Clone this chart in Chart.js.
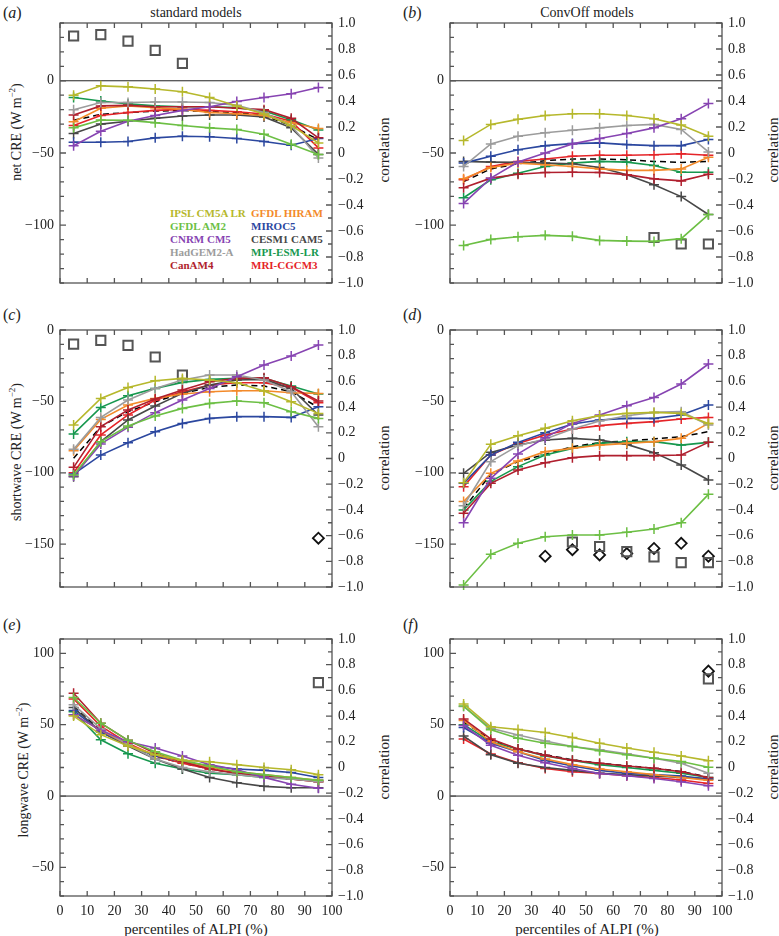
<!DOCTYPE html>
<html><head><meta charset="utf-8">
<script src="https://cdn.jsdelivr.net/npm/chart.js@4.4.1/dist/chart.umd.min.js"></script>
<style>
body{margin:0;background:#fff;width:779px;height:936px;position:relative;overflow:hidden;font-family:'Liberation Serif','Times New Roman',serif;color:#222}
canvas{position:absolute}
.t{position:absolute;white-space:nowrap;font-size:14px;line-height:1}
.c{transform:translate(-50%,-50%)}
.r{transform:translate(-50%,-50%) rotate(-90deg)}
.lab{font-size:16px;transform:translateY(-50%)}
.lg{position:absolute;font-weight:bold;font-size:11px;line-height:1;white-space:nowrap;transform:translateY(-50%)}
</style></head><body>

<div class="t lab" style="left:3px;top:13px">(<i>a</i>)</div>
<div class="t c" style="left:196px;top:13px">standard models</div>
<div class="t lab" style="left:403px;top:13px">(<i>b</i>)</div>
<div class="t c" style="left:587px;top:13px">ConvOff models</div>
<div class="t lab" style="left:3px;top:315px">(<i>c</i>)</div>
<div class="t lab" style="left:403px;top:315px">(<i>d</i>)</div>
<div class="t lab" style="left:3px;top:625px">(<i>e</i>)</div>
<div class="t lab" style="left:403px;top:625px">(<i>f</i>)</div>

<div class="t r" style="left:16px;top:132px">net CRE (W m<sup style="font-size:9px">−2</sup>)</div>
<div class="t r" style="left:16px;top:452px">shortwave CRE (W m<sup style="font-size:9px">−2</sup>)</div>
<div class="t r" style="left:23px;top:770px">longwave CRE (W m<sup style="font-size:9px">−2</sup>)</div>

<div class="t r" style="left:384px;top:150px;font-size:15px">correlation</div>
<div class="t r" style="left:773px;top:150px;font-size:15px">correlation</div>
<div class="t r" style="left:384px;top:458px;font-size:15px">correlation</div>
<div class="t r" style="left:773px;top:458px;font-size:15px">correlation</div>
<div class="t r" style="left:384px;top:767px;font-size:15px">correlation</div>
<div class="t r" style="left:773px;top:767px;font-size:15px">correlation</div>

<div class="t c" style="left:196px;top:929px;font-size:15px">percentiles of ALPI (%)</div>
<div class="t c" style="left:587px;top:929px;font-size:15px">percentiles of ALPI (%)</div>

<div id="legend"></div>

<script>
// ---------------- data ----------------
const percentiles = [5, 15, 25, 35, 45, 55, 65, 75, 85, 95];
const modelNames = ['IPSL CM5A LR', 'GFDL AM2', 'CNRM CM5', 'HadGEM2-A', 'CanAM4',
                    'GFDL HIRAM', 'MIROC5', 'CESM1 CAM5', 'MPI-ESM-LR', 'MRI-CGCM3'];
const xTickValues = [0, 10, 20, 30, 40, 50, 60, 70, 80, 90, 100];
const corrTickValues = [1, 0.8, 0.6, 0.4, 0.2, 0, -0.2, -0.4, -0.6, -0.8, -1];
const netTickValues = [0, -50, -100];
const swTickValues = [0, -50, -100, -150];
const lwTickValues = [100, 50, 0, -50];

// (a) net CRE, standard models (rows in modelNames order)
const netStandard = [
  [-10, -3.5, -4.2, -5.7, -7.6, -11.6, -17.4, -23, -31, -43],
  [-32.6, -27.2, -27.4, -29, -31, -32.6, -33.7, -37, -44, -51],
  [-45, -35, -28, -24, -20.5, -18, -14.4, -11.6, -9, -4.6],
  [-20, -15, -15, -14.7, -14.7, -15, -17, -22, -31, -53.5],
  [-23.7, -17.4, -17, -18, -18, -18, -19, -20, -26, -39.5],
  [-28.4, -19, -17.4, -18.6, -19.8, -22, -22.8, -24, -29, -33],
  [-42.6, -42.6, -42, -39.5, -38.4, -38.8, -40, -42, -44.6, -40],
  [-36.5, -30, -28, -26, -24.4, -23.7, -23.7, -25, -32.6, -51],
  [-11.6, -14, -16, -17.4, -18, -18, -18.6, -21, -27, -34],
  [-31, -24, -22, -20.5, -19.8, -20.5, -21.4, -23, -28, -46.5]
];
const netStandardMean = [-27.4, -23.3, -22, -21, -20.5, -21.4, -22, -24, -31, -40.7];
const netStandardCorr = [0.90, 0.91, 0.86, 0.79, 0.69, null, null, null, null, null];

// (b) net CRE, ConvOff models
const netConvOff = [
  [-41.4, -30.2, -26.7, -24, -22.8, -22.8, -24, -26.3, -30.7, -38.4],
  [-114, -109.8, -108, -107, -107.7, -110.5, -111, -111.2, -109.3, -92.6],
  [-84.9, -67.4, -56.3, -50, -43.7, -40, -36.5, -32.6, -26.3, -15.8],
  [-59.3, -43.7, -38.4, -36, -34.2, -32.6, -31, -30.2, -33.7, -49.3],
  [-74, -67.4, -64.7, -63.5, -63.3, -63.5, -65, -67.9, -69.3, -64.7],
  [-67.9, -60, -57, -58.1, -59.3, -61, -62, -62, -61, -53],
  [-57, -52.3, -47.7, -44.9, -43.5, -43, -44.2, -44.9, -44.9, -40.7],
  [-55.8, -56.3, -56.5, -57, -57.4, -60, -65, -72, -80.2, -92.6],
  [-81, -68.6, -64, -59.3, -57, -55.8, -56.3, -58.6, -63.3, -63.3],
  [-68.6, -59.3, -55.8, -54.2, -52.3, -51.6, -51.6, -51.2, -50.5, -51.6]
];
const netConvOffMean = [-69.8, -61, -57.4, -55.3, -54.2, -54.2, -54.7, -55.8, -56.5, -55.8];
const netConvOffCorr = [null, null, null, null, null, null, null, -0.65, -0.70, -0.70];

// (c) shortwave CRE, standard models
const swStandard = [
  [-66.5, -47.9, -40.2, -35.5, -33.9, -35, -36.9, -42.7, -50.2, -58.4],
  [-101.6, -78.2, -67.2, -60.2, -54.9, -51.4, -49.7, -50.9, -57.2, -61.9],
  [-102.3, -79.8, -68.2, -57.9, -49, -40.9, -32.7, -24.5, -18.2, -10.5],
  [-83.6, -61.2, -49, -40.9, -35, -31.5, -31.5, -35, -43.2, -67.7],
  [-96.2, -67.7, -56, -48.3, -42, -36.2, -33.9, -33.4, -39.7, -49.7],
  [-84.5, -62.6, -52.5, -47.9, -44.8, -43.2, -42.5, -42.5, -43.9, -44.4],
  [-100.9, -87.6, -78.9, -71.2, -65.4, -61.9, -60.7, -60.7, -61.2, -53.7],
  [-102.7, -78.2, -63, -53.2, -44.4, -38.5, -35, -34.6, -40.9, -59.5],
  [-72.8, -54.2, -46, -40.9, -36.7, -34.6, -33.9, -33.9, -39.2, -44.8],
  [-100, -73.5, -59.5, -49, -43.2, -38.5, -36.9, -36.9, -40.2, -50.9]
];
const swStandardMean = [-89.9, -67.7, -57.2, -50.2, -44.4, -40.2, -38.5, -39.2, -43.2, -54.2];
const swStandardCorr = [0.89, 0.92, 0.88, 0.79, 0.65, null, null, null, null, null];
const swStandardCorrAlt = [null, null, null, null, null, null, null, null, null, -0.62];

// (d) shortwave CRE, ConvOff models
const swConvOff = [
  [-107, -80.1, -74, -68.9, -63.5, -60, -58.4, -57.7, -58.4, -65.4],
  [-178.6, -157.1, -149.4, -144.8, -143.6, -143.6, -141.7, -139.4, -135, -115.1],
  [-135, -103.9, -86.8, -75.4, -65.4, -59.5, -53, -47.2, -37.8, -23.8],
  [-123.1, -92.2, -81, -76.4, -69.3, -63.7, -60, -57.7, -57.2, -66.5],
  [-128.4, -107.4, -98, -93, -89.4, -88, -88, -88, -87.6, -78.7],
  [-120.2, -100.4, -91.8, -85.2, -82.9, -80.6, -79.4, -78.2, -75.9, -65.4],
  [-107.4, -87.6, -78.7, -71.9, -65.8, -63, -61.9, -61.9, -59.5, -52.5],
  [-100.4, -85.7, -80.6, -77, -75.9, -77, -80.1, -85.9, -94.6, -105.1],
  [-126, -106, -95.7, -87.6, -82.9, -79.4, -78.2, -78.2, -80.6, -78.7],
  [-109.7, -87.6, -79.4, -73.6, -69.3, -67, -65.4, -64.2, -62.3, -61.2]
];
const swConvOffMean = [-125, -101.1, -92.2, -87.1, -81.7, -78.9, -77.7, -76.3, -74.7, -71.2];
const swConvOffCorr = [null, null, null, null, -0.65, -0.685, -0.725, -0.765, -0.81, -0.81];
const swConvOffCorrAlt = [null, null, null, -0.76, -0.71, -0.75, -0.74, -0.70, -0.66, -0.76];

// (e) longwave CRE, standard models
const lwStandard = [
  [56, 43, 35, 29, 25, 24, 22, 20, 18.4, 15],
  [69, 51, 39, 31, 25, 21, 17, 15, 13, 11],
  [57, 46, 38, 33.6, 28, 22, 18.4, 13.1, 8.3, 5.5],
  [64, 47, 36, 26, 20, 17, 15, 13, 12, 10],
  [72, 51, 39, 30, 24, 19, 16, 14, 12, 10],
  [57, 46, 36, 29, 24, 20, 17, 15, 13, 11],
  [60, 45, 36, 28, 24, 21, 19, 18, 16.5, 13],
  [62, 45, 35, 26, 19, 13, 9.3, 6.8, 5.8, 5.8],
  [59, 39.4, 29.6, 23, 19, 16, 15, 13, 12, 11],
  [68, 49, 37, 28, 23, 19, 16, 14, 12, 10]
];
const lwStandardMean = [63, 46, 36, 28, 23, 19, 16, 14, 12, 10.5];
const lwStandardCorr = [null, null, null, null, null, null, null, null, null, 0.66];

// (f) longwave CRE, ConvOff models
const lwConvOff = [
  [64.5, 48.5, 46.6, 44.5, 41, 37, 33.6, 30.7, 28.1, 24.8],
  [63, 46.4, 40.5, 37, 34.7, 31.7, 28.9, 26.5, 24.2, 20.2],
  [49.5, 35.6, 28.6, 23.3, 19.3, 15.8, 14.2, 12.3, 10, 7.2],
  [62.8, 47.5, 42.8, 38.6, 34.7, 32.4, 29.6, 26.5, 23, 16],
  [54, 40, 33, 28.5, 25, 23, 21, 19.5, 17, 13],
  [53, 38, 31, 26, 22, 19, 17, 15, 13, 11],
  [48, 37, 31, 25, 21, 18, 16, 15, 14, 12],
  [42, 29, 23, 20, 18, 16, 15, 14, 13, 12],
  [50, 38, 33, 28, 25, 22, 20, 18, 16, 13],
  [40, 29.5, 23.3, 19.3, 17, 15.8, 14.2, 13, 11.2, 8.8]
];
const lwConvOffMean = [52, 39.4, 32.9, 28.9, 25.4, 23, 21.2, 19.5, 17.2, 13.2];
const lwConvOffCorr = [null, null, null, null, null, null, null, null, null, 0.69];
const lwConvOffCorrAlt = [null, null, null, null, null, null, null, null, null, 0.75];

// ---------------- styles ----------------
const modelColors = ['#b6b82c', '#6cbf44', '#8744b2', '#9c9c9c', '#b01f2e',
                     '#f38a2a', '#2b479f', '#474747', '#17984f', '#e52428'];
const FONT = "'Liberation Serif', 'Times New Roman', serif";

// legend (inside panel a)
const legendCols = [170, 251];
const legendRows = [213, 226, 239, 252, 265];
const lg = document.getElementById('legend');
modelNames.forEach((n, i) => {
  const d = document.createElement('div');
  d.className = 'lg';
  d.textContent = n;
  d.style.left = legendCols[Math.floor(i / 5)] + 'px';
  d.style.top = legendRows[i % 5] + 'px';
  d.style.color = modelColors[i];
  lg.appendChild(d);
});

function pts(arr) { return percentiles.map((p, i) => ({ x: p, y: arr[i] })); }
function fmtMinus(v, dec) {
  if (v === 0) return '0';
  const s = dec ? Math.abs(v).toFixed(dec) : String(Math.abs(v));
  return (v < 0 ? '\u2212' : '') + s;
}

const framePlugin = {
  id: 'frameTicks',
  beforeDatasetsDraw(chart) {
    const { ctx, chartArea: a, scales } = chart;
    const y0 = scales.y.getPixelForValue(0);
    if (y0 > a.top + 1 && y0 < a.bottom - 1) {
      ctx.save();
      ctx.strokeStyle = '#222'; ctx.lineWidth = 1;
      ctx.beginPath(); ctx.moveTo(a.left, y0); ctx.lineTo(a.right, y0); ctx.stroke();
      ctx.restore();
    }
  },
  afterDatasetsDraw(chart) {
    const { ctx, chartArea: a, scales } = chart;
    ctx.save();
    ctx.strokeStyle = '#555'; ctx.lineWidth = 1.3;
    ctx.strokeRect(a.left, a.top, a.right - a.left, a.bottom - a.top);
    ctx.beginPath();
    for (let v = 0; v <= 100; v += 10) {
      const x = scales.x.getPixelForValue(v);
      ctx.moveTo(x, a.top); ctx.lineTo(x, a.top + 5);
      ctx.moveTo(x, a.bottom); ctx.lineTo(x, a.bottom - 5);
    }
    const ys = scales.y;
    for (let v = Math.ceil(ys.min / 10) * 10; v <= ys.max; v += 10) {
      const y = ys.getPixelForValue(v);
      const L = (v % 50 === 0) ? 6 : 4;
      ctx.moveTo(a.left, y); ctx.lineTo(a.left + L, y);
    }
    const y2 = scales.y2;
    for (let i = -10; i <= 10; i++) {
      const y = y2.getPixelForValue(i / 10);
      const L = (i % 2 === 0) ? 6 : 4;
      ctx.moveTo(a.right, y); ctx.lineTo(a.right - L, y);
    }
    ctx.stroke();
    ctx.restore();
  }
};

const panels = [
  { id: 'a', box: [0, 0, 390, 300], plot: [60, 23, 332, 283], range: [-140, 40], ticks: netTickValues,
    series: netStandard, mean: netStandardMean, sq: netStandardCorr, dia: null, showX: false },
  { id: 'b', box: [390, 0, 389, 300], plot: [450, 23, 722, 283], range: [-140, 40], ticks: netTickValues,
    series: netConvOff, mean: netConvOffMean, sq: netConvOffCorr, dia: null, showX: false },
  { id: 'c', box: [0, 300, 390, 310], plot: [60, 330, 332, 587], range: [-180, 0], ticks: swTickValues,
    series: swStandard, mean: swStandardMean, sq: swStandardCorr, dia: swStandardCorrAlt, showX: false },
  { id: 'd', box: [390, 300, 389, 310], plot: [450, 330, 722, 587], range: [-180, 0], ticks: swTickValues,
    series: swConvOff, mean: swConvOffMean, sq: swConvOffCorr, dia: swConvOffCorrAlt, showX: false },
  { id: 'e', box: [0, 610, 390, 326], plot: [60, 639, 332, 896], range: [-70, 110], ticks: lwTickValues,
    series: lwStandard, mean: lwStandardMean, sq: lwStandardCorr, dia: null, showX: true },
  { id: 'f', box: [390, 610, 389, 326], plot: [450, 639, 722, 896], range: [-70, 110], ticks: lwTickValues,
    series: lwConvOff, mean: lwConvOffMean, sq: lwConvOffCorr, dia: lwConvOffCorrAlt, showX: true }
];

panels.forEach(p => {
  const [bx, by, bw, bh] = p.box;
  const [pl, pt, pr, pb] = p.plot;
  const cv = document.createElement('canvas');
  cv.width = bw; cv.height = bh;
  cv.style.left = bx + 'px'; cv.style.top = by + 'px';
  cv.style.width = bw + 'px'; cv.style.height = bh + 'px';
  document.body.appendChild(cv);

  const datasets = p.series.map((vals, i) => ({
    data: pts(vals), yAxisID: 'y', borderColor: modelColors[i], backgroundColor: modelColors[i],
    borderWidth: 1.6, pointStyle: 'cross', pointRadius: 5, pointBorderWidth: 1.5,
    pointBorderColor: modelColors[i], tension: 0, clip: false, fill: false
  }));
  datasets.push({
    data: pts(p.mean), yAxisID: 'y', borderColor: '#000', borderWidth: 1.5,
    borderDash: [6, 4], pointRadius: 0, tension: 0, clip: false, fill: false
  });
  datasets.push({
    data: pts(p.sq), yAxisID: 'y2', showLine: false, pointStyle: 'rect', pointRadius: 6.5,
    pointBorderColor: '#555', pointBackgroundColor: 'rgba(0,0,0,0)', pointBorderWidth: 2, clip: false
  });
  if (p.dia) datasets.push({
    data: pts(p.dia), yAxisID: 'y2', showLine: false, pointStyle: 'rectRot', pointRadius: 5.5,
    pointBorderColor: '#111', pointBackgroundColor: 'rgba(0,0,0,0)', pointBorderWidth: 1.8, clip: false
  });

  const tickFont = { family: FONT, size: 14 };
  new Chart(cv, {
    type: 'line',
    data: { datasets },
    plugins: [framePlugin],
    options: {
      responsive: false, animation: false, devicePixelRatio: 1,
      layout: { padding: { top: pt - by, left: 0, right: 0, bottom: 0 } },
      plugins: { legend: { display: false }, tooltip: { enabled: false } },
      scales: {
        x: {
          type: 'linear', position: 'bottom', min: 0, max: 100,
          afterBuildTicks: s => { s.ticks = xTickValues.map(v => ({ value: v })); },
          afterFit: s => { s.height = (by + bh) - pb; },
          ticks: { display: p.showX, font: tickFont, color: '#222', padding: 7, autoSkip: false, maxRotation: 0 },
          grid: { display: false, drawTicks: false }, border: { display: false }
        },
        y: {
          type: 'linear', position: 'left', min: p.range[0], max: p.range[1],
          afterBuildTicks: s => { s.ticks = p.ticks.map(v => ({ value: v })); },
          afterFit: s => { s.width = pl - bx; },
          ticks: { font: tickFont, color: '#222', padding: 6, autoSkip: false, callback: v => fmtMinus(v, 0) },
          grid: { display: false, drawTicks: false }, border: { display: false }
        },
        y2: {
          type: 'linear', position: 'right', min: -1, max: 1,
          afterBuildTicks: s => { s.ticks = corrTickValues.map(v => ({ value: v })); },
          afterFit: s => { s.width = (bx + bw) - pr; },
          ticks: { font: tickFont, color: '#222', padding: 6, autoSkip: false, callback: v => fmtMinus(v, 1) },
          grid: { display: false, drawTicks: false }, border: { display: false }
        }
      }
    }
  });
});
</script>
</body></html>
